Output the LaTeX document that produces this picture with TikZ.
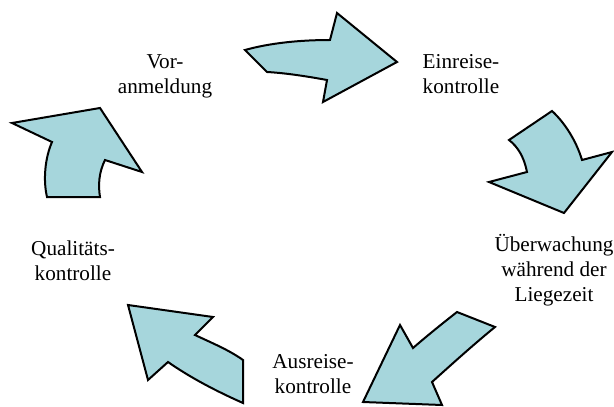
\documentclass[tikz,border=0pt]{standalone}
\usepackage{xcolor}
\usepackage{fontspec}
\setmainfont{Liberation Serif}
\usepackage{tikz}
\usetikzlibrary{positioning}

\definecolor{arrowfill}{RGB}{166,214,220}

\begin{document}
\begin{tikzpicture}[x=0.5pt,y=-0.5pt,
  bentarrow/.style={draw=black,line width=1pt,fill=arrowfill,line join=miter},
  phase/.style={inner sep=0pt},
  every node/.style={align=center,font=\fontsize{10.6}{12.5}\selectfont}]

    \useasboundingbox (0,0) rectangle (614,406);

    % labels
    \node[phase](vor) at (165,76) {Vor-\\anmeldung};
    \node[phase](ein) at (461,74) {Einreise-\\kontrolle};
    \node[phase](ueber) at (554,270) {Überwachung\\während der\\Liegezeit};
    \node[phase](aus) at (313,374) {Ausreise-\\kontrolle};
    \node[phase](qual) at (73,261) {Qualitäts-\\kontrolle};

    % arrows
    \draw[bentarrow] (245,50) .. controls (270,43) and (300,40) .. (330,40)
        -- (337,13) -- (397,62) -- (323,102) -- (327,80)
        .. controls (305,76) and (285,73) .. (267,72) -- cycle;
    \draw[bentarrow] (509,140) -- (552,111)
        .. controls (564,122) and (576,140) .. (582,160)
        -- (612,152) -- (564,213) -- (489,182) -- (527,172)
        .. controls (524,157) and (518,147) .. cycle;
    \draw[bentarrow] (457,312) -- (495,327)
        .. controls (473,345) and (452,364) .. (432,382)
        -- (442,405) -- (363,402) -- (400,325) -- (413,348)
        .. controls (428,335) and (443,323) .. cycle;
    \draw[bentarrow] (128,305) -- (213,317) -- (195,335)
        .. controls (212,343) and (229,350) .. (243,360)
        -- (243,403) .. controls (216,391) and (191,378) .. (168,362)
        -- (148,380) -- cycle;
    \draw[bentarrow] (12,123) -- (100,108) -- (142,172) -- (105,160)
        .. controls (99,172) and (98,185) .. (100,197)
        -- (47,197) .. controls (43,180) and (45,158) .. (52,142) -- cycle;
\end{tikzpicture}
\end{document}
